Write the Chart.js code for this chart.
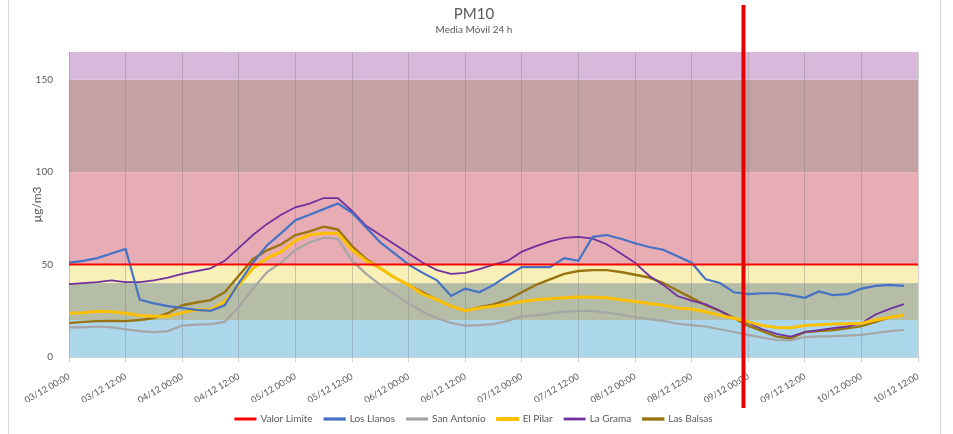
<!DOCTYPE html>
<html lang="es">
<head>
  <meta charset="UTF-8">
  <title>PM10 - Media Móvil 24 h</title>
  <script src="https://cdn.jsdelivr.net/npm/chart.js"></script>
  <style>
    body {
      margin: 0;
      background: #ffffff;
    }

    .chart-box {
      position: relative;
      width: 953px;
      height: 434px;
    }
  </style>
</head>
<body>

  <div class="chart-box">
    <canvas id="pm10Chart"></canvas>
  </div>

  <script>
    // hours since 03/12 00:00 (one reading every 3 h)
    const HOURS = [0, 3, 6, 9, 12, 15, 18, 21, 24, 27, 30, 33, 36, 39, 42, 45, 48, 51, 54, 57,
                   60, 63, 66, 69, 72, 75, 78, 81, 84, 87, 90, 93, 96, 99, 102, 105, 108, 111, 114, 117,
                   120, 123, 126, 129, 132, 135, 138, 141, 144, 147, 150, 153, 156, 159, 162, 165, 168, 171, 174, 177];

    const LOS_LLANOS = [51, 52, 53.5, 56, 58.5, 31, 29, 27.5, 26.5, 25.5, 25, 28, 40, 51, 60.5, 67, 74, 77, 80, 83,
                        78, 70, 62, 56, 50, 45.5, 41.5, 33, 37, 35, 39, 44, 48.6, 48.6, 48.6, 53.5, 52, 65, 66, 64,
                        61.5, 59.5, 58, 54.5, 51, 42, 40, 35, 34, 34.5, 34.5, 33.5, 32, 35.5, 33.5, 34, 37, 38.5, 39, 38.5];

    const SAN_ANTONIO = [16, 16, 16.5, 16, 15, 14, 13.5, 14, 17, 17.5, 17.8, 19, 27, 37, 46, 51, 58, 62, 64.5, 64,
                         52, 45, 39, 34, 29, 24.5, 21, 18.5, 17, 17.2, 17.8, 19.5, 22, 22.5, 23.5, 24.5, 25, 25, 24, 23,
                         21.6, 20.5, 19.5, 18, 17.2, 16.5, 15, 13.5, 12, 10.5, 9.2, 9, 10.8, 11.2, 11.3, 11.6, 12, 13, 14, 14.6];

    const EL_PILAR = [23.7, 24, 24.8, 24.5, 23.7, 22.5, 22, 22, 24, 25.5, 25.4, 30, 39, 48, 53.5, 57, 63, 66, 67, 67,
                      58, 52, 48, 43, 39, 34, 31, 27.5, 25, 26.5, 27.5, 28.5, 30, 31, 31.5, 32, 32.5, 32.3, 32, 31,
                      30, 29, 28, 26.5, 26, 24.5, 22.5, 21, 19, 17, 16, 15.8, 17, 17.5, 17.8, 18, 18.3, 20, 21.5, 22.7];

    const LA_GRAMA = [39.4, 40, 40.5, 41.5, 40.5, 40.5, 41.5, 43, 45, 46.5, 48, 52, 59, 66, 72, 77, 81, 83, 86, 86,
                      79, 71, 66, 61, 56, 51, 47, 45, 45.5, 47.5, 50, 52, 57, 60, 62.5, 64.5, 65, 64, 61, 56,
                      51, 44, 39, 33, 30.5, 28.5, 25, 21, 18.5, 15, 12.5, 11, 13.5, 14.5, 15.6, 16.5, 18.3, 23, 26, 28.6];

    const LAS_BALSAS = [18.3, 19, 19.4, 19.5, 19.4, 20, 21, 23.7, 28, 29.5, 30.8, 35, 44, 53, 57.7, 61, 66, 68, 70.5, 69,
                        60, 53, 48, 43, 39, 35, 31, 27.5, 25, 27, 28.5, 31, 35, 39, 42, 45, 46.5, 47, 47, 46,
                        44.5, 43, 40, 36, 32, 28, 25, 21, 17, 14, 11, 10, 13.5, 14, 14.6, 15.5, 16.7, 19, 21.5, 22.7];

    const VALOR_LIMITE = 50;
    const X_RANGE = [0, 180];

    const TICK_LABELS = ['03/12 00:00', '03/12 12:00', '04/12 00:00', '04/12 12:00', '05/12 00:00', '05/12 12:00',
                         '06/12 00:00', '06/12 12:00', '07/12 00:00', '07/12 12:00', '08/12 00:00', '08/12 12:00',
                         '09/12 00:00', '09/12 12:00', '10/12 00:00', '10/12 12:00'];

    // air quality bands (µg/m3)
    const BAND_LIMITS = [0, 20, 40, 50, 100, 150, 165];
    const BAND_COLORS = ['#acd7ea', '#b5bda7', '#f8f0b6', '#e8adb4', '#c5a1a3', '#d8b9dc'];

    // red marker (hours since 03/12 00:00)
    const MARKER_HOUR = 143;

    const SERIES = [
      { label: 'Los Llanos', values: LOS_LLANOS, color: '#4472c4', width: 2.2 },
      { label: 'San Antonio', values: SAN_ANTONIO, color: '#a5a5a5', width: 2.2 },
      { label: 'El Pilar', values: EL_PILAR, color: '#ffc000', width: 3 },
      { label: 'La Grama', values: LA_GRAMA, color: '#7030a0', width: 1.8 },
      { label: 'Las Balsas', values: LAS_BALSAS, color: '#9a7410', width: 2.4 }
    ];

    const bandsPlugin = {
      id: 'bands',
      beforeDraw(chart) {
        const { ctx, chartArea, scales } = chart;
        ctx.save();
        for (let i = 0; i < BAND_COLORS.length; i++) {
          const yTop = scales.y.getPixelForValue(BAND_LIMITS[i + 1]);
          const yBot = scales.y.getPixelForValue(BAND_LIMITS[i]);
          ctx.fillStyle = BAND_COLORS[i];
          ctx.fillRect(chartArea.left, yTop, chartArea.right - chartArea.left, yBot - yTop);
        }
        ctx.restore();
      }
    };

    const markerPlugin = {
      id: 'marker',
      afterDraw(chart) {
        const { ctx, chartArea, scales } = chart;
        const x = scales.x.getPixelForValue(MARKER_HOUR);
        ctx.save();
        ctx.strokeStyle = '#e60000';
        ctx.lineWidth = 4;
        ctx.beginPath();
        ctx.moveTo(x, 5);
        ctx.lineTo(x, chartArea.bottom + 51);
        ctx.stroke();
        // chart frame
        ctx.strokeStyle = '#d9d9d9';
        ctx.lineWidth = 1;
        ctx.beginPath();
        ctx.moveTo(8.5, 0);
        ctx.lineTo(8.5, chart.height);
        ctx.moveTo(940.5, 0);
        ctx.lineTo(940.5, chart.height);
        ctx.stroke();
        ctx.restore();
      }
    };

    Chart.defaults.font.family = "Lato, 'Open Sans', sans-serif";
    Chart.defaults.color = '#595959';

    const datasets = [{
      label: 'Valor Limite',
      data: X_RANGE.map(h => ({ x: h, y: VALOR_LIMITE })),
      borderColor: '#ff0000',
      backgroundColor: '#ff0000',
      borderWidth: 2,
      pointRadius: 0
    }];

    SERIES.forEach(s => {
      datasets.push({
        label: s.label,
        data: HOURS.map((h, i) => ({ x: h, y: s.values[i] })),
        borderColor: s.color,
        backgroundColor: s.color,
        borderWidth: s.width,
        pointRadius: 0,
        tension: 0
      });
    });

    new Chart(document.getElementById('pm10Chart'), {
      type: 'line',
      data: { datasets: datasets },
      options: {
        responsive: true,
        maintainAspectRatio: false,
        animation: false,
        layout: { padding: { left: 30, right: 35, top: 0, bottom: 0 } },
        plugins: {
          title: {
            display: true,
            text: 'PM10',
            font: { size: 15, weight: 'normal' },
            color: '#595959',
            padding: { top: 5, bottom: 0 }
          },
          subtitle: {
            display: true,
            text: 'Media Móvil 24 h',
            font: { size: 10 },
            color: '#595959',
            padding: { top: 1, bottom: 16 }
          },
          legend: {
            position: 'bottom',
            labels: {
              boxWidth: 20,
              boxHeight: 1,
              padding: 12,
              font: { size: 10 },
              color: '#595959'
            }
          },
          tooltip: { enabled: false }
        },
        scales: {
          x: {
            type: 'linear',
            min: X_RANGE[0],
            max: X_RANGE[1],
            afterFit(scale) { scale.height = 45; },
            grid: {
              color: 'rgba(120, 120, 120, 0.35)',
              tickLength: 5
            },
            border: { color: 'rgba(120, 120, 120, 0.35)' },
            ticks: {
              stepSize: 12,
              autoSkip: false,
              minRotation: 30,
              maxRotation: 30,
              padding: 9,
              font: { size: 9 },
              color: '#595959',
              callback: v => TICK_LABELS[v / 12]
            }
          },
          y: {
            min: 0,
            max: BAND_LIMITS[BAND_LIMITS.length - 1],
            afterFit(scale) { scale.width = 39; },
            grid: { display: false },
            border: { display: false },
            ticks: {
              stepSize: 50,
              includeBounds: false,
              padding: 8,
              font: { size: 10 },
              color: '#595959'
            },
            title: {
              display: true,
              text: 'µg/m3',
              font: { size: 12 },
              color: '#595959',
              padding: { top: 0, bottom: 0 }
            }
          }
        }
      },
      plugins: [bandsPlugin, markerPlugin]
    });
  </script>

</body>
</html>
